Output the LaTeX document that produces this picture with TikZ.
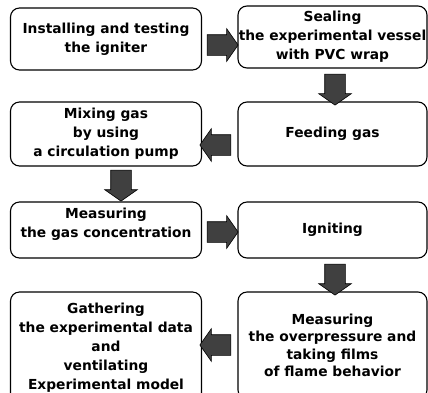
\documentclass[tikz,border=0pt]{standalone}
\usepackage{fontspec}
\setmainfont{DejaVu Sans}
\usetikzlibrary{shapes.arrows}
\begin{document}
\begin{tikzpicture}[x=1pt,y=-1pt]
\tikzset{stepbox/.style={draw, line width=1.1pt, rounded corners=9pt, align=center,
    font=\bfseries\fontsize{13.8}{19}\selectfont, inner sep=0pt, minimum width=191pt},
  blockarrow/.style={single arrow, draw=black, fill=black!75, line width=0.6pt,
    inner sep=0pt, single arrow head extend=6pt, single arrow tip angle=110,
    minimum height=31pt}}
\clip (0, 0) rectangle (428, 392);
\node[stepbox, minimum height=62pt] (S1) at (106, 39) {Installing and testing\\the igniter};
\node[stepbox, minimum height=62pt, minimum width=189pt] (S2) at (332.5, 37) {Sealing\\the experimental vessel\\with PVC wrap};
\node[stepbox, minimum height=64pt, minimum width=189pt] (S3) at (332.5, 134) {Feeding gas};
\node[stepbox, minimum height=64pt] (S4) at (106, 134) {Mixing gas\\by using\\a circulation pump};
\node[stepbox, minimum height=56pt] (S5) at (106, 230) {Measuring\\the gas concentration\rule[-14pt]{0pt}{0pt}};
\node[stepbox, minimum height=56pt, minimum width=189pt] (S6) at (332.5, 230) {Igniting};
\node[stepbox, minimum height=107pt, minimum width=189pt, font=\bfseries\fontsize{13.8}{17.5}\selectfont] (S7) at (332.5, 345.5) {Measuring\\the overpressure and\\taking films\\of flame behavior};
\node[stepbox, minimum height=112pt] (S8) at (106, 348) {Gathering\\the experimental data\\and\\ventilating\\Experimental model};
\node[blockarrow] (A1) at (219, 45) {\rule{0pt}{20pt}};
\node[blockarrow, shape border rotate=270] (A2) at (335, 86) {\rule{20pt}{0pt}};
\node[blockarrow, shape border rotate=180] (A3) at (219, 145) {\rule{0pt}{20pt}};
\node[blockarrow, shape border rotate=270] (A4) at (121, 182) {\rule{20pt}{0pt}};
\node[blockarrow] (A5) at (219, 232) {\rule{0pt}{20pt}};
\node[blockarrow, shape border rotate=270] (A6) at (335, 276) {\rule{20pt}{0pt}};
\node[blockarrow, shape border rotate=180] (A7) at (219, 345) {\rule{0pt}{20pt}};
\end{tikzpicture}
\end{document}
